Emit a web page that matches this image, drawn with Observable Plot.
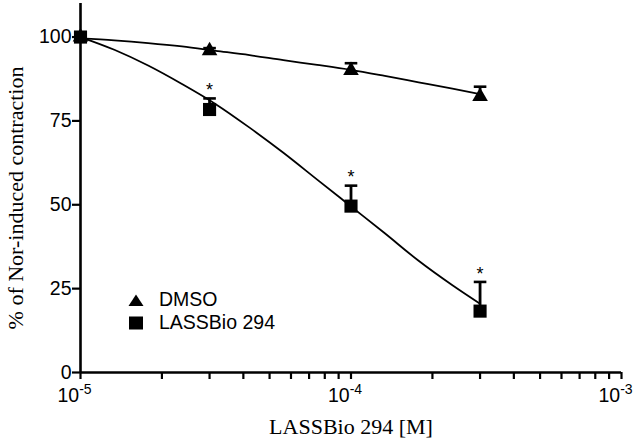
<!DOCTYPE html>
<html><head><meta charset="utf-8">
<script src="https://cdn.jsdelivr.net/npm/d3@7"></script>
<script src="https://cdn.jsdelivr.net/npm/@observablehq/plot@0.6"></script>
<style>
body{margin:0;background:#fff;}
#wrap{position:relative;width:640px;height:445px;}
#legend{position:absolute;left:127px;top:288px;font-family:"Liberation Sans",Arial,sans-serif;font-size:19.5px;line-height:23px;color:#000;}
#legend div{display:flex;align-items:center;}
#legend svg{margin-right:14px;}
</style></head>
<body><div id="wrap"><div id="chart"></div>
<div id="legend">
<div><svg width="18" height="16"><path d="M9,2.5 L16.5,14 L1.5,14 Z" fill="#000"/></svg>DMSO</div>
<div><svg width="18" height="16"><rect x="2" y="1.5" width="14" height="13" fill="#000"/></svg>LASSBio 294</div>
</div></div>
<script>
// Concentrations [M]
const conc = [1e-5, 3e-5, 1e-4, 3e-4];
// DMSO mean and SEM (% of Nor-induced contraction)
const dmsoMean = [100, 95.9, 90, 82.3];
const dmsoErr  = [0, 0.8, 2.2, 2.9];
// LASSBio 294 mean and SEM
const lassMean = [100, 78.4, 49.6, 18.3];
const lassErr  = [0, 3.3, 6.1, 8.7];
// Significance markers
const lassSig  = [false, true, true, true];
// Fitted curves (log10 of concentration)
const fitLogX = [-5, -4.875, -4.75, -4.625, -4.5, -4.375, -4.25, -4.125, -4, -3.875, -3.75, -3.625, -3.523];
const fitDmso = [99.6, 99.0, 98.2, 97.2, 95.9, 94.6, 93.1, 91.7, 90.2, 88.4, 86.5, 84.6, 83.0];
const fitLass = [100, 96.2, 91.5, 86, 80, 73, 65.5, 57.5, 49.5, 41.5, 33.3, 26, 20.5];
const yTicks = [0, 25, 50, 75, 100];
const xMajor = [-5, -4, -3];

const dmso = conc.map((c,i)=>({x:c, y:dmsoMean[i], top:dmsoMean[i]+dmsoErr[i]}));
const lass = conc.map((c,i)=>({x:c, y:lassMean[i], top:lassMean[i]+lassErr[i], sig:lassSig[i]}));
const fitD = fitLogX.map((l,i)=>({x:Math.pow(10,l), y:fitDmso[i]}));
const fitL = fitLogX.map((l,i)=>({x:Math.pow(10,l), y:fitLass[i]}));
const xTicks = [];
for (const e of [-5,-4]) for (let m=1;m<10;m++) xTicks.push(m*Math.pow(10,e));
xTicks.push(1e-3);

const capSymbol = {draw(ctx, size){ const r=6.3; ctx.moveTo(-r,0); ctx.lineTo(r,0); }};
const errs = [...dmso.filter(d=>d.top>d.y), ...lass.filter(d=>d.top>d.y)];
const serif = '"Liberation Serif", "Times New Roman", serif';

const chart = Plot.plot({
  width:640, height:445,
  marginLeft:80, marginRight:19, marginTop:3, marginBottom:73,
  style:{fontFamily:'"Liberation Sans", Arial, sans-serif', fontSize:"19.5px", color:"#000", background:"#fff"},
  x:{type:"log", domain:[1e-5,1e-3]},
  y:{domain:[0,110]},
  marks:[
    Plot.axisY({ticks:yTicks, tickSize:8, tickPadding:1, label:null, fontSize:19.5, strokeWidth:2.2}),
    Plot.axisX({ticks:xTicks, tickSize:7, tickPadding:9, label:null, fontSize:19.5, strokeWidth:2.2,
      tickFormat:d=>{const l=Math.round(Math.log10(d)*1000)/1000; return xMajor.includes(l) ? "10^"+l : "";}}),
    Plot.ruleY([0], {strokeWidth:2.6}),
    Plot.ruleX([1e-5], {strokeWidth:2.6, y1:0, y2:110}),
    Plot.line(fitD, {x:"x", y:"y", curve:"monotone-x", strokeWidth:1.8}),
    Plot.line(fitL, {x:"x", y:"y", curve:"monotone-x", strokeWidth:1.8}),
    Plot.ruleX(errs, {x:"x", y1:"y", y2:"top", strokeWidth:2.8}),
    Plot.dot(errs, {x:"x", y:"top", symbol:capSymbol, stroke:"#000", strokeWidth:2.6, r:3}),
    Plot.dot(dmso, {x:"x", y:"y", symbol:"triangle", fill:"#000", r:5.8}),
    Plot.dot(lass, {x:"x", y:"y", symbol:"square", fill:"#000", r:7.4}),
    Plot.text(lass.filter(d=>d.sig), {x:"x", y:"top", text:()=>"*", dy:-8, fontSize:18}),
    Plot.text(["LASSBio 294 [M]"], {frameAnchor:"bottom", dy:61, fontFamily:serif, fontSize:22}),
    Plot.text(["% of Nor-induced contraction"], {frameAnchor:"left", dx:-65, dy:10, rotate:-90, textAnchor:"middle", fontFamily:serif, fontSize:22})
  ]
});
// superscript exponents on decade labels
d3.select(chart).selectAll("text").each(function(){
  const t = this.textContent;
  const m = /^10\^(-?\d+)$/.exec(t);
  if (m) {
    const sel = d3.select(this);
    sel.text("10").attr("dx","-6");
    sel.append("tspan").attr("dy","-8").attr("font-size","14").text(m[1]);
  }
});
document.getElementById("chart").appendChild(chart);
</script>
</body></html>
